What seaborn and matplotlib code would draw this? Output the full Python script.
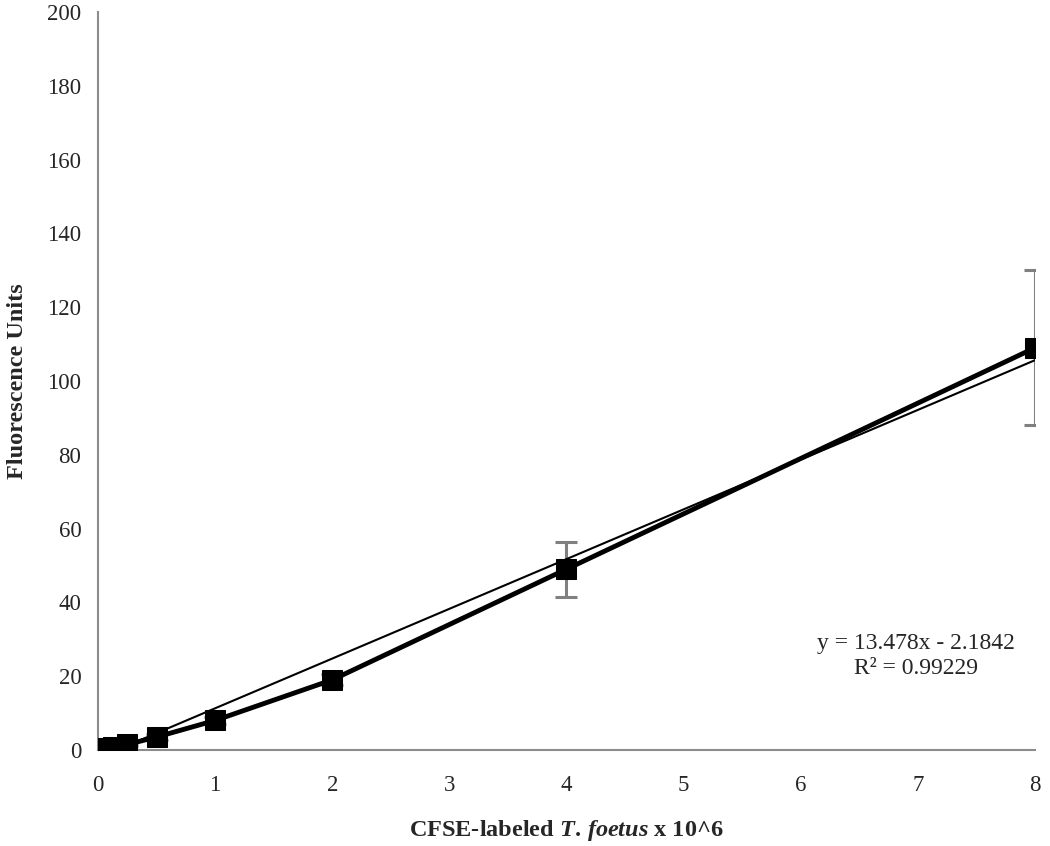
import numpy as np
import pandas as pd
import seaborn as sns
import matplotlib.pyplot as plt

# cell counts (x 10^6) and mean fluorescence
cells = [0, 0.0625, 0.125, 0.25, 0.5, 1, 2, 4, 8]
fluor = [0.3, 0.5, 0.8, 1.5, 3.5, 8.0, 19.0, 49.0, 109.0]
sd = [0.2, 0.2, 0.3, 0.5, 0.8, 1.0, 1.5, 7.5, 21.0]

slope = 13.478
intercept = -2.1842
r2 = 0.99229

df = pd.DataFrame({"cells": cells, "fluor": fluor, "sd": sd})

sns.set_style("white")
plt.rcParams["font.family"] = ["Liberation Serif", "DejaVu Serif"]
plt.rcParams["mathtext.fontset"] = "custom"
plt.rcParams["mathtext.rm"] = "Liberation Serif:bold"
plt.rcParams["mathtext.it"] = "Liberation Serif:italic:bold"

fig = plt.figure(figsize=(10.5, 8.46), dpi=100)
ax = fig.add_axes([0.0933, 0.1135, 0.8924, 0.8723])

# error bars (gray) below the data line
ax.errorbar(df["cells"], df["fluor"], yerr=df["sd"], fmt="none",
            ecolor="#808080", elinewidth=2.2, capsize=8, capthick=2.2, zorder=1)

# linear trendline from the shown equation
xt = np.array([min(cells), max(cells)])
ax.plot(xt, slope * xt + intercept, color="black", lw=1.5, zorder=2)

sns.lineplot(data=df, x="cells", y="fluor", ax=ax, color="black", lw=3.5,
             marker="s", markersize=15, markeredgecolor="black", zorder=3)

ax.set_xlim(0, 8)
ax.set_ylim(0, 200)
ax.set_xticks(range(0, 9))
ax.set_yticks(range(0, 201, 20))

for side in ["top", "right"]:
    ax.spines[side].set_visible(False)
for side in ["left", "bottom"]:
    ax.spines[side].set_color("#8c8c8c")
    ax.spines[side].set_linewidth(1.5)
ax.tick_params(axis="both", direction="out", length=6, width=1.5,
               color="#8c8c8c", labelsize=16.5, pad=6)
ax.tick_params(axis="x", pad=12)

ax.set_xlabel("CFSE-labeled $\\it{T.\\,foetus}$ x 10^6", fontsize=17.5,
              fontweight="bold", labelpad=16)
ax.set_ylabel("Fluorescence Units", fontsize=17.5, fontweight="bold", labelpad=14)

ax.text(6.98, 25.5, f"y = {slope}x - {abs(intercept)}\nR² = {r2}",
        ha="center", va="center", fontsize=17, linespacing=1.25)

fig.savefig("out.png", dpi=100)
